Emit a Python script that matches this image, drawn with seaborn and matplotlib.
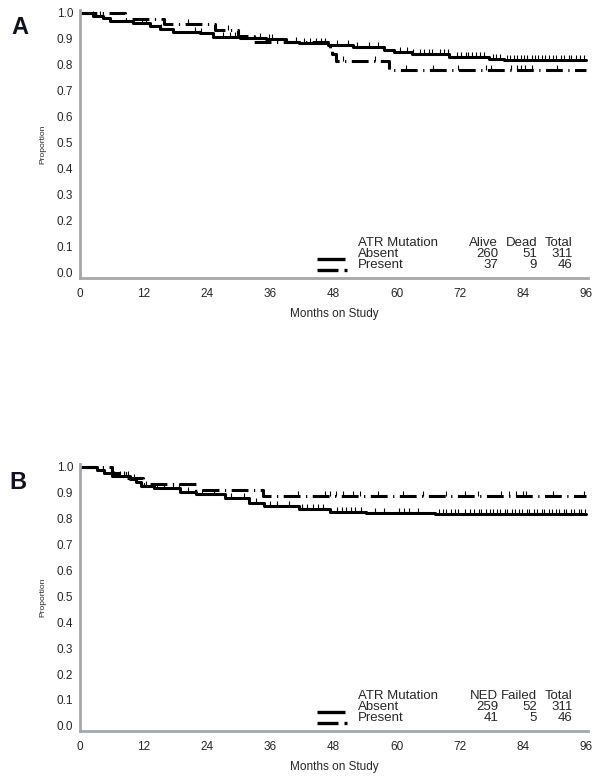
import numpy as np
import pandas as pd
import matplotlib
matplotlib.use("Agg")
import matplotlib.pyplot as plt
from matplotlib.lines import Line2D
import seaborn as sns

# --- Panel A: overall survival (Alive / Dead) ---
a_absent_time = [0, 2.5, 4.4, 5.7, 10.1, 13.2, 15.1, 17.7, 22.7, 25.2, 30.3, 35.3,
                 39.0, 41.5, 47.0, 51.7, 57.7, 59.5, 63.0, 70.0, 77.6, 80.4, 96]
a_absent_surv = [1.0, 0.989, 0.980, 0.970, 0.960, 0.950, 0.937, 0.928, 0.922, 0.909, 0.905, 0.898,
                 0.889, 0.886, 0.877, 0.867, 0.857, 0.849, 0.841, 0.830, 0.822, 0.817, 0.817]
a_present_time = [0, 8.5, 16.0, 25.5, 30.0, 33.0, 47.3, 47.8, 48.5, 58.5, 96]
a_present_surv = [1.0, 0.978, 0.956, 0.934, 0.912, 0.890, 0.866, 0.842, 0.815, 0.780, 0.780]

a_absent_cens = [2.5, 3.8, 11.8, 12.6, 15.3, 21.8, 23.0, 27.2, 28.4, 29.3, 34.2, 35.8, 36.3,
                 41.0, 42.5, 43.6, 44.7, 45.6, 46.4, 48.8, 50.8, 52.5, 54.7, 56.4, 60.6, 62.0,
                 63.2, 64.5, 65.3, 66.1, 66.7, 68.2, 69.0, 69.8, 71.4, 72.3, 73.1, 73.6, 74.3,
                 75.0, 75.9, 76.5, 78.3, 78.8, 79.6, 81.0, 81.5, 82.3, 82.8, 83.5, 84.1, 84.7,
                 85.6, 86.2, 86.8, 87.6, 88.1, 88.9, 89.7, 90.2, 91.1, 91.7, 92.6, 93.1, 94.0,
                 94.7, 95.5]
a_present_cens = [20.5, 28.0, 49.8, 56.0, 61.8, 66.9, 71.6, 77.0, 78.0, 81.7, 82.8, 83.6,
                  84.4, 85.6, 90.5]

# --- Panel B: disease-free (NED / Failed) ---
b_absent_time = [0, 3.2, 4.5, 6.0, 9.5, 10.7, 11.5, 14.0, 19.0, 22.0, 27.5, 32.0, 34.8,
                 41.6, 47.3, 54.3, 67.2, 96]
b_absent_surv = [1.0, 0.987, 0.975, 0.965, 0.955, 0.943, 0.927, 0.919, 0.905, 0.896, 0.881,
                 0.861, 0.849, 0.837, 0.828, 0.821, 0.817, 0.817]
b_present_time = [0, 6.0, 9.0, 12.0, 22.0, 34.7, 96]
b_present_surv = [1.0, 0.978, 0.956, 0.934, 0.912, 0.888, 0.888]

b_absent_cens = [6.5, 7.6, 8.3, 9.1, 10.3, 12.5, 14.6, 16.0, 17.7, 18.8, 20.5, 23.1, 25.4,
                 28.6, 31.0, 33.4, 36.1, 37.4, 39.6, 42.1, 43.0, 44.2, 45.1, 46.0, 48.7, 49.6,
                 50.4, 51.3, 52.1, 53.2, 56.0, 57.6, 60.5, 61.4, 62.4, 64.1, 68.0, 68.8, 69.4,
                 70.3, 71.1, 71.7, 72.9, 74.0, 74.7, 75.6, 76.1, 76.9, 77.7, 78.2, 79.1, 79.6,
                 80.5, 81.0, 81.9, 82.4, 83.3, 83.8, 84.7, 85.2, 86.1, 86.6, 87.5, 88.0, 88.9,
                 89.4, 90.3, 90.8, 91.7, 92.2, 93.1, 93.6, 94.5, 95.0, 95.8]
b_present_cens = [41.3, 46.4, 47.3, 48.6, 49.8, 51.7, 53.0, 56.5, 61.2, 65.0, 69.4, 72.9,
                  75.4, 79.8, 81.4, 82.6, 83.9, 84.5, 89.6, 95.6]

# legend table contents
groups = ["Absent", "Present"]
a_cols = ["Alive", "Dead", "Total"]
a_counts = [[260, 51, 311], [37, 9, 46]]
b_cols = ["NED", "Failed", "Total"]
b_counts = [[259, 52, 311], [41, 5, 46]]

x_ticks = [0, 12, 24, 36, 48, 60, 72, 84, 96]
y_ticks = [0.0, 0.1, 0.2, 0.3, 0.4, 0.5, 0.6, 0.7, 0.8, 0.9, 1.0]

AXIS_GRAY = "#a4a7ac"
DASH = (0, (5.5, 1.8, 0.4, 1.8))


def censor_y(times, surv, cens):
    # survival value of the step curve at each censoring time
    idx = np.searchsorted(times, cens, side="right") - 1
    return np.asarray(surv)[idx]


def draw_panel(ax, curves, cols, counts):
    for (t, s, c, ls) in curves:
        df = pd.DataFrame({"month": t, "prop": s})
        sns.lineplot(data=df, x="month", y="prop", ax=ax, color="black", lw=2.2,
                     drawstyle="steps-post", estimator=None, sort=False, linestyle=ls)
        sns.scatterplot(x=c, y=censor_y(t, s, c), ax=ax, marker=2, s=14,
                        color="black", linewidth=0.8, zorder=3)

    ax.set_xlim(0, 96.3)
    ax.set_ylim(-0.02, 1.01)
    ax.set_xticks(x_ticks)
    ax.set_yticks(y_ticks)
    ax.set_yticklabels([f"{v:.1f}" for v in y_ticks])
    ax.set_xlabel("Months on Study", fontsize=8.5, labelpad=6)
    ax.set_ylabel("Proportion", fontsize=6)
    ax.yaxis.set_label_coords(-0.067, 0.5)
    for side in ["top", "right"]:
        ax.spines[side].set_visible(False)
    for side in ["left", "bottom"]:
        ax.spines[side].set_color(AXIS_GRAY)
        ax.spines[side].set_linewidth(2.0)
    ax.tick_params(axis="x", length=3, width=1, color=AXIS_GRAY, pad=4, labelsize=8.5)
    ax.tick_params(axis="y", length=0, pad=5, labelsize=8.5)

    # legend drawn as a small table, like the SAS output
    fs = 9.5
    ax.text(0.547, 0.131, "ATR Mutation", transform=ax.transAxes, fontsize=fs, va="center")
    col_x = [0.823, 0.900, 0.970]
    for cx, name in zip(col_x, cols):
        ax.text(cx, 0.131, name, transform=ax.transAxes, fontsize=fs, va="center", ha="right")
    row_y = [0.090, 0.048]
    for ry, g, cnt in zip(row_y, groups, counts):
        ax.text(0.547, ry, g, transform=ax.transAxes, fontsize=fs, va="center")
        for cx, v in zip(col_x, cnt):
            ax.text(cx, ry, str(v), transform=ax.transAxes, fontsize=fs, va="center", ha="right")
    ax.add_line(Line2D([0.467, 0.522], [0.071, 0.071], transform=ax.transAxes,
                       color="black", lw=2.4, solid_capstyle="butt"))
    ax.add_line(Line2D([0.467, 0.508], [0.030, 0.030], transform=ax.transAxes,
                       color="black", lw=2.4, solid_capstyle="butt"))
    ax.add_line(Line2D([0.520, 0.525], [0.030, 0.030], transform=ax.transAxes,
                       color="black", lw=2.4, solid_capstyle="butt"))


def main():
    sns.set_style("white")
    plt.rcParams["font.family"] = ["Liberation Sans", "DejaVu Sans"]

    fig = plt.figure(figsize=(6.02, 7.83), dpi=100)
    ax_a = fig.add_axes([0.1329, 0.645, 0.8439, 0.3418])
    ax_b = fig.add_axes([0.1329, 0.0664, 0.8439, 0.3405])

    draw_panel(ax_a, [(a_absent_time, a_absent_surv, a_absent_cens, "-"),
                      (a_present_time, a_present_surv, a_present_cens, DASH)],
               a_cols, a_counts)
    draw_panel(ax_b, [(b_absent_time, b_absent_surv, b_absent_cens, "-"),
                      (b_present_time, b_present_surv, b_present_cens, DASH)],
               b_cols, b_counts)

    fig.text(20 / 602, 1 - 28 / 783, "A", fontsize=17, fontweight="bold",
             color="#111122", ha="center", va="center")
    fig.text(18 / 602, 1 - 482 / 783, "B", fontsize=17, fontweight="bold",
             color="#111122", ha="center", va="center")

    fig.savefig("out.png", dpi=100)


if __name__ == "__main__":
    main()
